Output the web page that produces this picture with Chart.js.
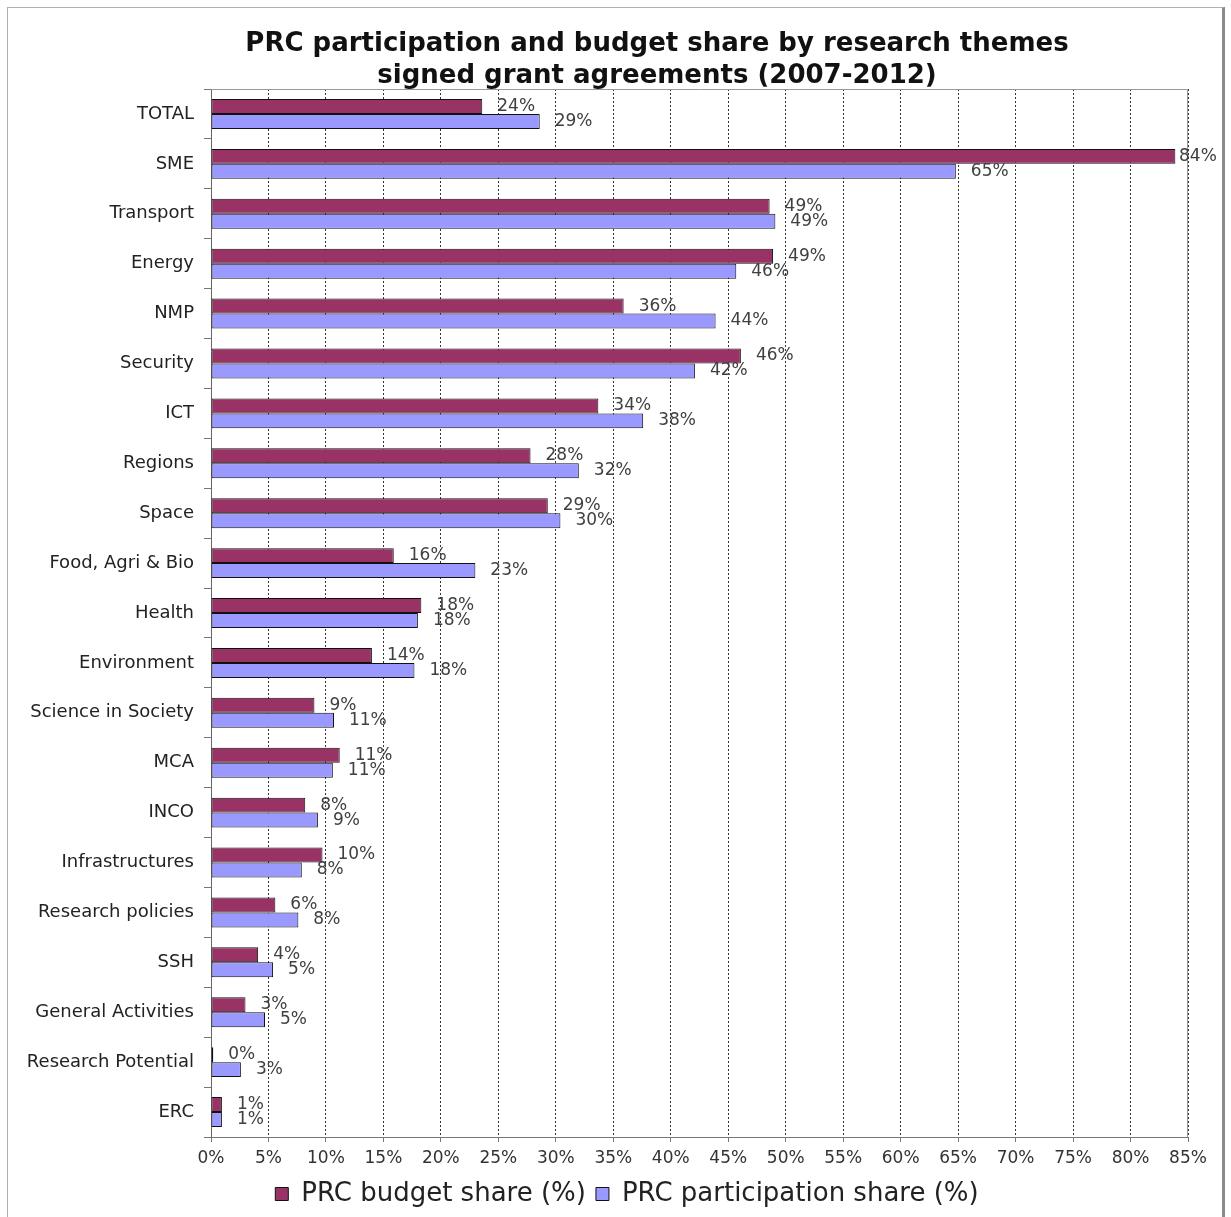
<!DOCTYPE html>
<html><head><meta charset="utf-8">
<script src="https://cdn.jsdelivr.net/npm/chart.js@4"></script>
<style>
html,body{margin:0;padding:0;background:#fff;overflow:hidden;}
#wrap{position:absolute;left:0;top:0;width:1231px;height:1217px;overflow:hidden;background:#fff}
#frame{position:absolute;left:7px;top:7px;width:1218px;height:1300px;border-left:1px solid #b0b0b0;border-top:1px solid #b0b0b0;border-right:3px solid #8a8a8a;box-sizing:border-box;}
canvas{position:absolute;left:0;top:0}
</style></head><body>
<div id="wrap"><div id="frame"></div><canvas id="c" width="1231" height="1217"></canvas></div>
<script>
const titleLines = ['PRC participation and budget share by research themes', 'signed grant agreements (2007-2012)'];
const categories = ['TOTAL','SME','Transport','Energy','NMP','Security','ICT','Regions','Space','Food, Agri & Bio','Health','Environment','Science in Society','MCA','INCO','Infrastructures','Research policies','SSH','General Activities','Research Potential','ERC'];
const budgetShare = [23.6,83.9,48.6,48.9,35.9,46.1,33.7,27.8,29.3,15.9,18.3,14.0,9.0,11.2,8.2,9.7,5.6,4.1,3.0,0.2,0.95];
const participationShare = [28.6,64.8,49.1,45.7,43.9,42.1,37.6,32.0,30.4,23.0,18.0,17.7,10.7,10.6,9.3,7.9,7.6,5.4,4.7,2.6,0.95];
const seriesNames = ['PRC budget share (%)','PRC participation share (%)'];
const xTickValues = [0,5,10,15,20,25,30,35,40,45,50,55,60,65,70,75,80,85];

const shiftPlugin = {id:'shift', afterLayout(chart){
  const t = chart.titleBlock; if (t){ t.left += 63; t.right += 63; }
  const l = chart.legend; if (l){ l.left += 33; l.right += 33; }
}};
const frameBorder = {id:'plotBorder', beforeDatasetsDraw(chart){
  const {ctx, chartArea:a} = chart; ctx.save(); ctx.strokeStyle='#9a9a9a'; ctx.lineWidth=1;
  ctx.beginPath(); ctx.moveTo(a.left, a.top+0.5); ctx.lineTo(a.right-0.5, a.top+0.5); ctx.lineTo(a.right-0.5, a.bottom); ctx.stroke(); ctx.restore();
}};
const valueLabels = {id:'vals', afterDatasetsDraw(chart){
  const ctx = chart.ctx; ctx.save();
  ctx.font = '17px "DejaVu Sans"'; ctx.fillStyle = '#404040'; ctx.textBaseline = 'middle'; ctx.textAlign = 'left';
  chart.data.datasets.forEach((ds, di) => {
    chart.getDatasetMeta(di).data.forEach((bar, i) => {
      let x = Math.min(bar.x + 15, chart.chartArea.right - 9);
      ctx.fillText(Math.round(ds.data[i]) + '%', x, bar.y);
    });
  });
  ctx.restore();
}};

new Chart(document.getElementById('c'), {
  type: 'bar',
  data: {
    labels: categories,
    datasets: [
      {label: seriesNames[0], data: budgetShare, backgroundColor:'#993366', borderColor:'#111', borderWidth:1, borderSkipped:false},
      {label: seriesNames[1], data: participationShare, backgroundColor:'#9999FF', borderColor:'#111', borderWidth:1, borderSkipped:false}
    ]
  },
  options: {
    responsive:false, animation:false, indexAxis:'y',
    categoryPercentage:0.6, barPercentage:1.0,
    layout:{padding:{left:0,right:43,top:0,bottom:0}},
    plugins:{
      title:{display:true, text:titleLines, color:'#111', font:{family:'DejaVu Sans', weight:'bold', size:26, lineHeight:1.231}, padding:{top:28,bottom:-3}},
      legend:{position:'bottom', labels:{font:{family:'DejaVu Sans', size:26}, color:'#222', boxWidth:13, boxHeight:13, padding:10}},
      tooltip:{enabled:false}
    },
    scales:{
      x:{min:0, max:85,
        afterBuildTicks(s){ s.ticks = xTickValues.map(v => ({value:v})); },
        ticks:{callback:v => v + '%', font:{family:'DejaVu Sans', size:17}, color:'#333', padding:6, maxRotation:0, autoSkip:false},
        grid:{color:'#333', lineWidth:1, tickLength:5, tickColor:'#777'},
        border:{color:'#777', dash:[2,2]},
        afterFit(s){ s.height = 34; }
      },
      y:{
        ticks:{font:{family:'DejaVu Sans', size:18}, color:'#222', padding:10, autoSkip:false},
        grid:{drawOnChartArea:false, tickLength:7, tickColor:'#777', offset:true},
        border:{color:'#666'},
        afterFit(s){ s.width = 211; }
      }
    }
  },
  plugins:[shiftPlugin, frameBorder, valueLabels]
});
</script>
</body></html>
